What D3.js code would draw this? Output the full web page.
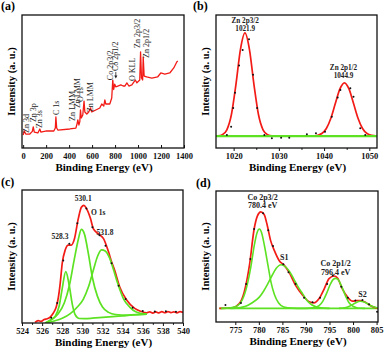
<!DOCTYPE html>
<html>
<head>
<meta charset="utf-8">
<script src="https://cdn.jsdelivr.net/npm/d3@7"></script>
<style>
  body { margin: 0; background: #fff; }
  svg { display: block; }
  text { font-family: "Liberation Serif", "Times New Roman", serif; }
</style>
</head>
<body>
<div id="chart"></div>
<script>
// ---- data (binding energy eV, intensity a.u.) ----

// (a) survey spectrum
var survey = [[0,9.8],[10,12.8],[23,10.5],[58,10.5],[80,12.5],[88,15.8],[97,12],[128,11.3],[145,14.3],[154,12],
  [204,12.8],[267,12.8],[280,15],[285,23.3],[292,15],[302,13.5],[406,14.3],[459,15],[471,18.8],[476,21.1],
  [485,17.3],[493,19.6],[499,28.6],[506,22.6],[519,24.8],[530,35.3],[537,27.1],[554,25.6],[571,27.1],[586,30.1],
  [597,27.1],[632,28.6],[667,30.1],[684,33.1],[702,31.6],[711,36.1],[719,33.1],[754,33.1],[771,37.6],[780,51.1],
  [788,44],[797,48],[806,46],[824,46.6],[850,47.4],[870,46.6],[885,46.6],[903,48.9],[920,46.6],[946,47.4],
  [963,49.6],[976,51.1],[990,49],[1015,51.1],[1022,72.2],[1030,52.6],[1040,51.1],[1045,68.4],[1053,54.1],
  [1075,53.4],[1120,52.6],[1170,53.4],[1198,56.4],[1233,55.6],[1276,56.4],[1311,60.2],[1337,64.7],[1346,65.4]];
var surveyLabels = ["Zn 3d","Zn 3p","Zn 3s","C 1s","Zn LMM","Zn LMM","O 1s","Zn LMM","Co 2p3/2","Co 2p1/2","O KLL","Zn 2p3/2","Zn 2p1/2"];

// (b) Zn 2p
var znRaw = [[1018.5,9.8],[1019.45,16],[1019.9,30],[1020.3,41.6],[1021.2,62],[1022,73.7],[1023.4,81.7],[1024.3,55],
  [1025.2,30],[1026.8,9.8],[1028.45,7.3],[1030.5,7.7],[1032.3,7.7],[1036.2,10.3],[1038.2,11],[1040.2,12.3],
  [1041.7,23.5],[1043,38],[1043.6,43.6],[1045.8,44.9],[1046.5,38.6],[1048,14.8],[1049.1,9.8]];
var znFit = [[1016.1,9],[1016.5,9.1],[1017.5,10],[1018.5,13.7],[1019.5,25],[1020.5,47.5],[1021.5,74],[1022.5,86.5],
  [1023.5,74],[1024.5,47.5],[1025.5,25],[1026.5,13.7],[1027.5,10],[1028.5,9.1],[1037.5,9],[1038.5,9.5],
  [1039.5,10.9],[1040.5,14.7],[1041.5,22.4],[1042.5,33.6],[1043.5,44.4],[1044.5,49],[1045.5,44.4],[1046.5,33.6],
  [1047.5,22.4],[1048.5,14.7],[1049.5,10.9],[1050.5,9.5],[1051.7,9]];
var znBackground = [[1016.1,9],[1051.7,9]];
var znLabels = ["Zn 2p3/2","1021.9","Zn 2p1/2","1044.9"];

// (c) O 1s
var oRaw = [[526.9,4],[527.5,15],[528.1,47],[528.7,59.5],[529.5,75],[530.4,86],[531,72],[531.7,66],[532.3,58],
  [532.9,45],[533.6,28],[534.3,18],[535,11.5],[536,9],[537.2,8.6],[538.3,8.8],[539.3,8.4]];
var oFit = [[525.3,0.5],[525.6,1.8],[525.9,1.2],[526.2,2.6],[526.5,3.2],[526.8,4.5],[527.1,7.3],[527.4,12],
  [527.6,18.6],[527.8,30],[528,45],[528.3,55],[528.6,58.6],[528.9,58.6],[529.2,63],[529.6,78.7],[529.9,87],
  [530.15,88.5],[530.4,86.2],[530.8,78.7],[531.1,70.7],[531.6,67],[532.1,63.5],[532.6,53.5],[532.9,46],
  [533.2,39.8],[533.7,27.3],[534.4,17.3],[535.2,11],[535.8,8.8],[536.4,7.6],[536.7,8.4],[537,7.5],[537.3,8.3],
  [537.6,7.6],[537.9,8.5],[538.2,7.7],[538.5,8.6],[538.8,7.8],[539.1,8.4],[539.4,7.6],[539.7,8.5],[540,8]];
var oPeak1 = [[526.3,0],[526.8,2],[527.3,5],[527.7,13],[528,26],[528.35,38.6],[528.7,28],[529,14],[529.3,6],
  [529.7,3.4],[530.2,3.3],[531,3.6],[532,4.2],[533,4.8],[534,5.4],[535,6],[536.4,6.6]];
var oPeak2 = [[526.3,0],[527,3],[527.6,7],[528.2,15],[528.7,28],[529.2,48],[529.6,63],[529.9,70.4],[530.2,67],
  [530.6,52],[531,34],[531.5,20],[532,12],[532.6,8],[533.3,6.4],[534.5,6],[536.4,6.6]];
var oPeak3 = [[526.3,0],[527.2,1.5],[528,3.5],[528.8,7],[529.5,12],[530.1,18],[530.6,27],[531.1,40],[531.5,50],
  [531.9,55],[532.3,54],[532.7,49],[533.1,40],[533.5,30],[534.1,18],[534.7,12],[535.3,8.5],[536.4,6.6]];
var oLabels = ["530.1","O 1s","528.3","531.8"];

// (d) Co 2p
var coRaw = [[772.9,12.9],[776.2,14.5],[777.3,29],[778.2,48],[779,71],[780.9,83],[782,70],[783,58],[785.2,44],
  [786.3,38],[787.8,29],[789.6,18.5],[791.4,15],[793,18.5],[794.5,29],[795.7,35.5],[797.5,27],[798.9,18.5],
  [800.5,16.5],[802,16.8],[803.4,13.5],[805.1,7.8]];
var coFit = [[771.6,10.4],[774.4,10.9],[775.85,14.1],[776.9,23],[778,43.2],[779,71],[779.7,81],[780.4,84.1],
  [781.1,82.3],[781.8,73.5],[782.5,62.1],[783.3,54.5],[784.3,47],[785.4,43.2],[786.4,38.1],[787.8,28],
  [789.3,20.5],[790.7,15.4],[791.7,14.6],[792.8,17.9],[793.9,25.5],[794.9,33.1],[796,35.1],[796.7,33.6],
  [797.7,25.5],[798.8,19.2],[799.9,15.9],[800.9,16.4],[801.6,16.4],[802.7,14.9],[803.7,12.4],[805.3,10.4]];
var coPeak1 = [[772,10.4],[774,10.8],[775.5,12.5],[776.5,17],[777.5,28],[778.3,42],[779,58],[779.6,68],[780.1,71],
  [780.6,68],[781.2,58],[781.9,44],[782.6,30],[783.3,21],[784.2,14.5],[785.3,11.5],[787,10.6],[790,10.4]];
var coSat1 = [[774,10.4],[776,11],[777.2,12],[778.5,14.5],[780.1,19],[781,23.5],[781.8,28.5],[782.8,35.5],
  [783.7,41],[784.7,43.7],[785.7,42],[786.6,38],[787.4,33],[788.3,27],[789.3,21.5],[790.3,16],[791.3,13],
  [792.8,11],[795,10.4]];
var coPeak2 = [[790,10.4],[791.5,10.8],[792.8,12.5],[793.6,16],[794.4,22],[795.2,29],[795.8,32.5],[796.3,33.3],
  [796.9,32],[797.6,27],[798.4,20],[799.2,14.5],[800,12],[801,10.7],[802.5,10.4]];
var coSat2 = [[797,10.4],[798.5,11],[799.5,12.5],[800.5,14.5],[801.5,15.8],[802.5,15],[803.5,13],[804.5,11.5],[805.3,10.8]];
var coBackground = [[771.6,10.4],[805.3,10.4]];
var coLabels = ["Co 2p3/2","780.4 eV","S1","Co 2p1/2","796.4 eV","S2"];

// ---- drawing ----
var RED = "#f21b16", GREEN = "#5ce222";

var svg = d3.select("#chart").append("svg")
    .attr("width", 387)
    .attr("height", 353);

function drawPanel(p) {
  var x = d3.scaleLinear().domain(p.xDomain).range([p.left, p.right]);
  var y = d3.scaleLinear().domain([0, 100]).range([p.bottom, p.top]);
  var g = svg.append("g");

  svg.append("clipPath").attr("id", "clip-" + p.name)
    .append("rect")
      .attr("x", p.left).attr("y", p.top)
      .attr("width", p.right - p.left).attr("height", p.bottom - p.top);

  // minor ticks
  if (p.minor) {
    g.append("g")
      .attr("transform", "translate(0," + p.bottom + ")")
      .call(d3.axisBottom(x).tickValues(p.minor).tickFormat("").tickSizeInner(p.tickSize * 0.6).tickSizeOuter(0))
      .call(function(a) { a.select(".domain").remove(); });
  }
  // major ticks
  var ax = g.append("g")
    .attr("transform", "translate(0," + p.bottom + ")")
    .call(d3.axisBottom(x).tickValues(p.ticks).tickFormat(d3.format("d"))
      .tickSizeInner(p.tickSize).tickSizeOuter(0).tickPadding(p.tickPad));
  ax.select(".domain").remove();
  ax.attr("font-family", null).attr("font-size", null);
  ax.selectAll("line").attr("stroke", "#111").attr("stroke-width", 1);
  ax.selectAll("text")
    .attr("font-size", 8.5)
    .attr("font-weight", "bold")
    .attr("fill", "#111");

  // axis titles
  g.append("text")
    .attr("x", (p.left + p.right) / 2 + 1)
    .attr("y", p.bottom + 23)
    .attr("text-anchor", "middle")
    .attr("font-size", 11)
    .attr("font-weight", "bold")
    .text("Binding Energy (eV)");
  g.append("text")
    .attr("transform", "translate(" + (p.left - 7) + "," + ((p.top + p.bottom) / 2) + ")rotate(-90)")
    .attr("text-anchor", "middle")
    .attr("font-size", 10.5)
    .attr("font-weight", "bold")
    .text("Intensity (a. u.)");

  // panel letter
  g.append("text")
    .attr("x", p.letterX).attr("y", p.letterY)
    .attr("font-size", 12)
    .attr("font-weight", "bold")
    .text(p.letter);

  var plot = g.append("g").attr("clip-path", "url(#clip-" + p.name + ")");
  var top = g.append("g");
  g.append("rect")
    .attr("x", p.left).attr("y", p.top)
    .attr("width", p.right - p.left).attr("height", p.bottom - p.top)
    .attr("fill", "none")
    .attr("stroke", "#111")
    .attr("stroke-width", 1.3);

  return {x: x, y: y, plot: plot, top: top};
}

function drawLine(P, data, color, width, curve) {
  var line = d3.line()
    .x(function(d) { return P.x(d[0]); })
    .y(function(d) { return P.y(d[1]); })
    .curve(curve || d3.curveMonotoneX);
  P.plot.append("path")
    .datum(data)
    .attr("d", line)
    .attr("fill", "none")
    .attr("stroke", color)
    .attr("stroke-width", width)
    .attr("stroke-linejoin", "round");
}

function drawDots(P, data) {
  P.plot.selectAll(null)
    .data(data)
    .enter().append("circle")
      .attr("cx", function(d) { return P.x(d[0]); })
      .attr("cy", function(d) { return P.y(d[1]); })
      .attr("r", 1)
      .attr("fill", "#111");
}

function drawLabels(P, texts, pos, size) {
  P.top.selectAll(null)
    .data(texts)
    .enter().append("text")
      .attr("x", function(d, i) { return P.x(pos[i][0]); })
      .attr("y", function(d, i) { return P.y(pos[i][1]); })
      .attr("text-anchor", "middle")
      .attr("font-size", size)
      .attr("font-weight", "bold")
      .attr("fill", "#222")
      .text(function(d) { return d; });
}

// (a)
var A = drawPanel({name: "a", left: 22, right: 184, top: 15, bottom: 148,
  xDomain: [-10, 1400], ticks: d3.range(0, 1401, 200), tickSize: -3, tickPad: 5,
  letter: "(a)", letterX: 1, letterY: 10});
drawLine(A, survey, RED, 1.3, d3.curveLinear);
// label anchors: [eV, intensity at the start of the rotated text]
var surveyLabelPos = [[47,11.3],[110,19.5],[168,15],[308,24.8],[453,20.3],[493,30],[523,34.6],[604,27],
  [782,51],[824,57.9],[974,50.4],[1019,75.2],[1094,67.7]];
A.top.selectAll(null)
  .data(surveyLabels)
  .enter().append("text")
    .attr("transform", function(d, i) {
      return "translate(" + A.x(surveyLabelPos[i][0]) + "," + A.y(surveyLabelPos[i][1]) + ")rotate(-90)";
    })
    .attr("font-size", 8)
    .attr("fill", "#222")
    .text(function(d) { return d; });
// small arrow under "Co 2p1/2"
var ax0 = A.x(824) - 2, ay0 = A.y(57.9) + 1;
A.top.append("line").attr("x1", ax0).attr("y1", ay0).attr("x2", ax0).attr("y2", ay0 + 4)
  .attr("stroke", "#222").attr("stroke-width", 0.8);
A.top.append("path")
  .attr("d", "M" + (ax0 - 1.6) + "," + (ay0 + 3.5) + "L" + (ax0 + 1.6) + "," + (ay0 + 3.5) + "L" + ax0 + "," + (ay0 + 6.5) + "Z")
  .attr("fill", "#222");

// (b)
var B = drawPanel({name: "b", left: 216, right: 377, top: 15, bottom: 148,
  xDomain: [1016.1, 1051.7], ticks: [1020, 1030, 1040, 1050], minor: [1025, 1035, 1045],
  tickSize: 3, tickPad: 2, letter: "(b)", letterX: 193, letterY: 10});
drawLine(B, znFit, RED, 1.7);
drawLine(B, znBackground, GREEN, 2.3, d3.curveLinear);
drawDots(B, znRaw);
drawLabels(B, znLabels, [[1022.55,94],[1022.55,88],[1044.3,58.3],[1044.3,52.3]], 7.2);

// (c)
var C = drawPanel({name: "c", left: 22, right: 183, top: 190, bottom: 323,
  xDomain: [524, 540], ticks: d3.range(524, 541, 2), minor: d3.range(525, 540, 2),
  tickSize: 3, tickPad: 2, letter: "(c)", letterX: 1, letterY: 186});
drawLine(C, oFit, RED, 1.7);
drawLine(C, oPeak1, GREEN, 1.7);
drawLine(C, oPeak2, GREEN, 1.7);
drawLine(C, oPeak3, GREEN, 1.7);
drawDots(C, oRaw);
drawLabels(C, oLabels, [[530.09,91.7],[531.58,81.2],[527.78,63.2],[532.25,66.5]], 7.5);

// (d)
var D = drawPanel({name: "d", left: 216, right: 378, top: 191, bottom: 322,
  xDomain: [770.9, 805.3], ticks: d3.range(775, 806, 5),
  tickSize: 3, tickPad: 2, letter: "(d)", letterX: 196, letterY: 187});
drawLine(D, coBackground, GREEN, 1.6, d3.curveLinear);
drawLine(D, coFit, RED, 1.7);
drawLine(D, coPeak1, GREEN, 1.6);
drawLine(D, coSat1, GREEN, 1.6);
drawLine(D, coPeak2, GREEN, 1.6);
drawLine(D, coSat2, GREEN, 1.6);
drawDots(D, coRaw);
drawLabels(D, coLabels, [[780.8,93.2],[780.8,86.7],[785.4,47.3],[796.3,42.5],[796.3,36.2],[802,18.9]], 8);
</script>
</body>
</html>
